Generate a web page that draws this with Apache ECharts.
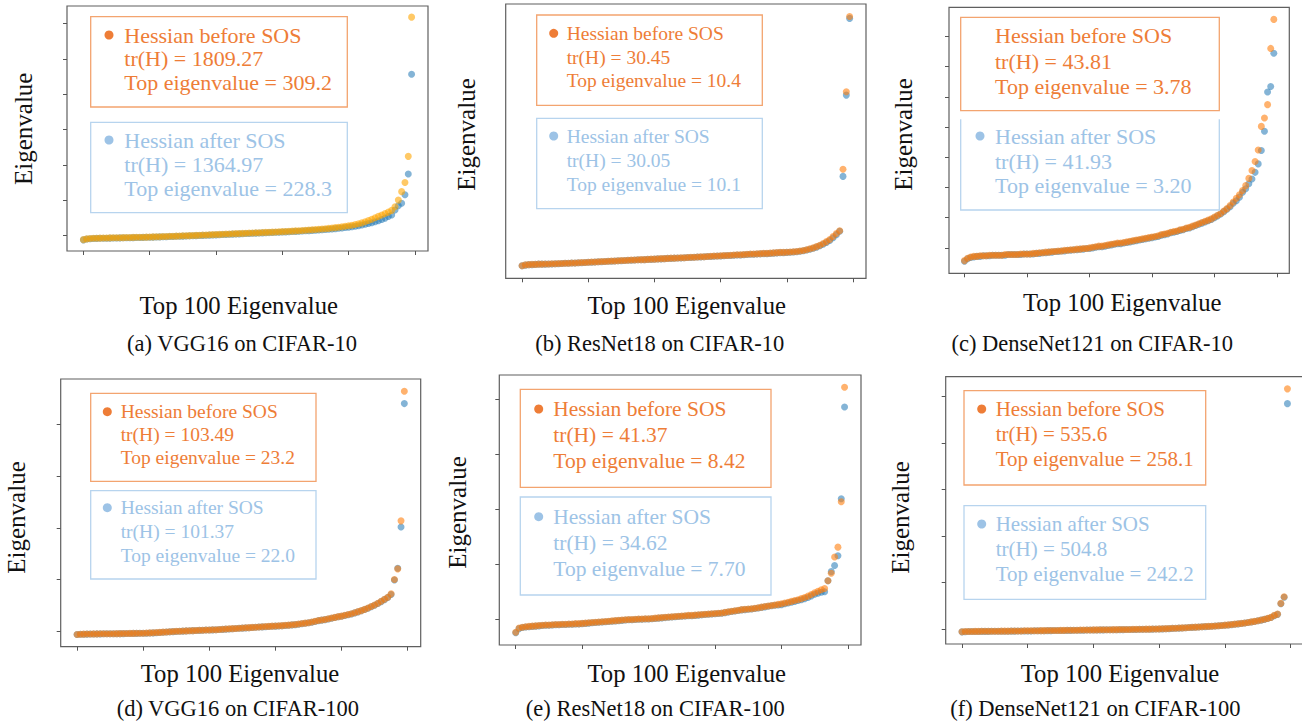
<!DOCTYPE html>
<html>
<head>
<meta charset="utf-8">
<script src="https://cdn.jsdelivr.net/npm/echarts@6/dist/echarts.min.js"></script>
<style>
  html, body { margin: 0; padding: 0; background: #fff; }
  #chart { width: 1302px; height: 721px; }
</style>
</head>
<body>
<div id="chart"></div>
<script>
// ---- data (index 0..99, sorted eigenvalues) ----
const xTicks = [0, 20, 40, 60, 80, 100];
const yTicks = [
  [0, 50, 100, 150, 200, 250, 300],
  [],
  [0, 0.5, 1, 1.5, 2, 2.5, 3, 3.5],
  [0, 5, 10, 15, 20],
  [0, 2, 4, 6, 8],
  [0, 50, 100, 150, 200, 250]
];
const captions = [
  '(a) VGG16 on CIFAR-10', '(b) ResNet18 on CIFAR-10', '(c) DenseNet121 on CIFAR-10',
  '(d) VGG16 on CIFAR-100', '(e) ResNet18 on CIFAR-100', '(f) DenseNet121 on CIFAR-100'
];
const trBefore = ['1809.27', '30.45', '43.81', '103.49', '41.37', '535.6'];
const topBefore = ['309.2', '10.4', '3.78', '23.2', '8.42', '258.1'];
const trAfter = ['1364.97', '30.05', '41.93', '101.37', '34.62', '504.8'];
const topAfter = ['228.3', '10.1', '3.20', '22.0', '7.70', '242.2'];

const aBefore = [-6.0,-4.9,-4.4,-4.1,-3.9,-3.8,-3.7,-3.6,-3.5,-3.4,
  -3.3,-3.2,-3.1,-3.0,-2.9,-2.8,-2.7,-2.6,-2.5,-2.4,
  -2.3,-2.1,-2.0,-1.8,-1.6,-1.5,-1.3,-1.1,-1.0,-0.8,
  -0.6,-0.5,-0.3,-0.1,0.1,0.3,0.5,0.7,0.9,1.1,
  1.3,1.5,1.7,1.9,2.1,2.3,2.5,2.7,2.9,3.1,
  3.3,3.5,3.7,3.9,4.1,4.3,4.5,4.7,4.9,5.1,
  5.4,5.6,5.9,6.1,6.4,6.7,7.0,7.3,7.6,7.9,
  8.3,8.7,9.1,9.5,10.0,10.5,11.0,11.6,12.2,12.9,
  13.6,14.5,15.4,16.5,17.8,19.4,21.2,23.0,25.0,27.0,
  29.0,31.0,33.0,35.5,40.6,50.0,62.0,75.0,112.0,309.2];
const aAfter = [-6.3,-5.2,-4.7,-4.4,-4.2,-4.1,-4.0,-3.9,-3.8,-3.7,
  -3.6,-3.5,-3.4,-3.3,-3.2,-3.1,-3.0,-2.9,-2.8,-2.7,
  -2.6,-2.4,-2.3,-2.1,-2.0,-1.8,-1.6,-1.5,-1.3,-1.1,
  -1.0,-0.8,-0.6,-0.5,-0.3,-0.1,0.1,0.3,0.4,0.6,
  0.8,1.0,1.2,1.4,1.6,1.8,2.0,2.2,2.4,2.6,
  2.8,3.0,3.2,3.4,3.6,3.8,4.0,4.2,4.4,4.6,
  4.8,5.0,5.2,5.5,5.7,6.0,6.2,6.5,6.8,7.1,
  7.4,7.7,8.0,8.4,8.8,9.2,9.6,10.1,10.6,11.1,
  11.7,12.3,13.0,13.8,14.7,15.7,16.8,18.0,19.3,20.8,
  22.5,24.5,27.0,29.0,36.0,42.0,45.5,57.5,87.0,228.3];

const bBefore = [0.00,0.04,0.05,0.06,0.06,0.07,0.07,0.08,0.08,0.09,
  0.09,0.10,0.10,0.11,0.11,0.12,0.12,0.13,0.14,0.14,
  0.15,0.16,0.16,0.17,0.18,0.18,0.19,0.20,0.20,0.21,
  0.22,0.22,0.23,0.24,0.24,0.25,0.26,0.26,0.27,0.28,
  0.28,0.29,0.30,0.30,0.31,0.32,0.32,0.33,0.34,0.34,
  0.35,0.36,0.36,0.37,0.38,0.38,0.39,0.40,0.41,0.41,
  0.42,0.43,0.43,0.44,0.45,0.46,0.46,0.47,0.48,0.49,
  0.49,0.50,0.51,0.52,0.52,0.53,0.54,0.55,0.56,0.56,
  0.57,0.58,0.59,0.60,0.62,0.64,0.67,0.71,0.75,0.80,
  0.86,0.93,1.01,1.10,1.22,1.35,1.46,4.03,7.26,10.40];
const bAfter = [0.00,0.03,0.05,0.05,0.06,0.07,0.07,0.07,0.08,0.08,
  0.09,0.09,0.10,0.11,0.11,0.12,0.12,0.13,0.13,0.14,
  0.15,0.15,0.16,0.17,0.17,0.18,0.19,0.19,0.20,0.21,
  0.21,0.22,0.23,0.23,0.24,0.25,0.25,0.26,0.27,0.27,
  0.28,0.29,0.29,0.30,0.31,0.31,0.32,0.33,0.33,0.34,
  0.35,0.35,0.36,0.37,0.37,0.38,0.39,0.39,0.40,0.41,
  0.41,0.42,0.43,0.43,0.44,0.45,0.45,0.46,0.47,0.48,
  0.48,0.49,0.50,0.51,0.51,0.52,0.53,0.54,0.55,0.55,
  0.56,0.57,0.58,0.59,0.61,0.63,0.66,0.69,0.73,0.78,
  0.84,0.90,0.97,1.06,1.17,1.30,1.44,3.73,7.12,10.32];

const cBefore = [-0.21,-0.17,-0.15,-0.14,-0.14,-0.13,-0.13,-0.13,-0.12,-0.12,
  -0.12,-0.12,-0.12,-0.11,-0.11,-0.11,-0.11,-0.11,-0.10,-0.10,
  -0.10,-0.10,-0.09,-0.09,-0.08,-0.08,-0.07,-0.07,-0.06,-0.06,
  -0.05,-0.05,-0.04,-0.04,-0.03,-0.03,-0.02,-0.02,-0.01,-0.01,
  0.00,0.01,0.02,0.03,0.03,0.04,0.05,0.06,0.07,0.08,
  0.08,0.09,0.10,0.11,0.12,0.13,0.14,0.15,0.16,0.17,
  0.18,0.19,0.20,0.22,0.23,0.24,0.26,0.27,0.28,0.30,
  0.31,0.33,0.34,0.36,0.38,0.40,0.42,0.44,0.46,0.48,
  0.51,0.54,0.57,0.61,0.65,0.70,0.76,0.82,0.88,0.95,
  1.03,1.15,1.28,1.43,1.62,2.01,2.15,2.37,3.30,3.78];
const cAfter = [-0.22,-0.18,-0.16,-0.15,-0.14,-0.14,-0.13,-0.13,-0.13,-0.12,
  -0.12,-0.12,-0.12,-0.12,-0.11,-0.11,-0.11,-0.11,-0.11,-0.10,
  -0.10,-0.10,-0.10,-0.09,-0.09,-0.08,-0.08,-0.07,-0.07,-0.06,
  -0.06,-0.05,-0.05,-0.04,-0.04,-0.03,-0.03,-0.02,-0.02,-0.01,
  -0.01,0.00,0.01,0.02,0.02,0.03,0.04,0.05,0.06,0.07,
  0.07,0.08,0.09,0.10,0.11,0.12,0.13,0.14,0.15,0.16,
  0.17,0.18,0.19,0.21,0.22,0.23,0.25,0.26,0.27,0.29,
  0.30,0.32,0.33,0.35,0.37,0.39,0.41,0.43,0.45,0.47,
  0.50,0.53,0.56,0.60,0.64,0.68,0.74,0.78,0.84,0.92,
  0.98,1.06,1.14,1.25,1.39,1.61,1.93,2.58,2.67,3.22];

const dBefore = [-0.30,-0.28,-0.27,-0.26,-0.26,-0.25,-0.25,-0.24,-0.24,-0.23,
  -0.23,-0.23,-0.22,-0.22,-0.21,-0.21,-0.20,-0.20,-0.19,-0.19,
  -0.18,-0.17,-0.15,-0.14,-0.12,-0.10,-0.08,-0.06,-0.04,-0.02,
  0.00,0.01,0.03,0.04,0.06,0.07,0.08,0.10,0.11,0.12,
  0.13,0.15,0.16,0.18,0.20,0.22,0.24,0.26,0.28,0.30,
  0.32,0.34,0.36,0.38,0.40,0.42,0.44,0.46,0.48,0.50,
  0.51,0.53,0.55,0.58,0.60,0.63,0.66,0.70,0.75,0.79,
  0.83,0.90,0.97,1.05,1.10,1.15,1.21,1.28,1.35,1.42,
  1.47,1.55,1.62,1.70,1.80,1.90,2.00,2.12,2.25,2.40,
  2.55,2.72,2.90,3.10,3.30,3.62,5.00,6.03,10.67,23.20];
const dAfter = [-0.31,-0.29,-0.28,-0.27,-0.26,-0.26,-0.25,-0.25,-0.24,-0.24,
  -0.23,-0.23,-0.23,-0.22,-0.22,-0.21,-0.21,-0.20,-0.20,-0.19,
  -0.19,-0.18,-0.16,-0.15,-0.13,-0.11,-0.09,-0.07,-0.05,-0.03,
  -0.01,0.01,0.02,0.04,0.05,0.07,0.08,0.09,0.10,0.12,
  0.13,0.14,0.16,0.17,0.19,0.21,0.23,0.25,0.27,0.29,
  0.31,0.33,0.35,0.37,0.39,0.41,0.43,0.45,0.47,0.49,
  0.50,0.52,0.54,0.57,0.59,0.62,0.65,0.69,0.73,0.78,
  0.82,0.88,0.95,1.03,1.08,1.13,1.19,1.26,1.33,1.40,
  1.45,1.53,1.60,1.68,1.78,1.88,1.98,2.10,2.23,2.37,
  2.52,2.69,2.87,3.06,3.27,3.55,4.95,6.10,10.07,22.00];

const eBefore = [-0.48,-0.33,-0.30,-0.28,-0.27,-0.26,-0.25,-0.24,-0.23,-0.22,
  -0.22,-0.21,-0.20,-0.20,-0.19,-0.19,-0.18,-0.18,-0.17,-0.17,
  -0.16,-0.15,-0.14,-0.13,-0.12,-0.11,-0.10,-0.09,-0.08,-0.07,
  -0.06,-0.05,-0.04,-0.03,-0.02,-0.02,-0.01,0.00,0.00,0.01,
  0.01,0.02,0.03,0.04,0.05,0.06,0.07,0.08,0.09,0.10,
  0.11,0.12,0.13,0.13,0.14,0.15,0.16,0.17,0.18,0.19,
  0.20,0.21,0.22,0.24,0.26,0.28,0.30,0.32,0.34,0.35,
  0.36,0.37,0.39,0.41,0.43,0.45,0.47,0.49,0.51,0.53,
  0.55,0.58,0.61,0.64,0.67,0.70,0.74,0.78,0.83,0.89,
  0.95,1.01,1.06,1.11,1.39,1.66,2.25,2.61,4.26,8.42];
const eAfter = [-0.50,-0.35,-0.31,-0.29,-0.28,-0.27,-0.26,-0.25,-0.24,-0.23,
  -0.23,-0.22,-0.21,-0.21,-0.20,-0.20,-0.19,-0.19,-0.18,-0.18,
  -0.17,-0.16,-0.15,-0.14,-0.13,-0.12,-0.11,-0.10,-0.09,-0.08,
  -0.07,-0.06,-0.05,-0.04,-0.03,-0.03,-0.02,-0.01,-0.01,0.00,
  0.00,0.01,0.02,0.03,0.04,0.05,0.06,0.07,0.08,0.09,
  0.10,0.11,0.12,0.12,0.13,0.14,0.15,0.16,0.17,0.18,
  0.19,0.20,0.21,0.23,0.25,0.27,0.29,0.31,0.33,0.34,
  0.35,0.36,0.38,0.40,0.42,0.44,0.46,0.48,0.50,0.51,
  0.52,0.55,0.58,0.61,0.64,0.67,0.70,0.74,0.78,0.84,
  0.90,0.94,0.97,0.99,1.39,1.72,1.94,2.30,4.37,7.70];

const fBefore = [-3.2,-3.0,-2.9,-2.9,-2.8,-2.8,-2.7,-2.7,-2.7,-2.6,
  -2.6,-2.6,-2.5,-2.5,-2.5,-2.4,-2.4,-2.3,-2.3,-2.2,
  -2.2,-2.2,-2.1,-2.1,-2.0,-2.0,-1.9,-1.9,-1.8,-1.8,
  -1.7,-1.7,-1.6,-1.6,-1.5,-1.5,-1.4,-1.4,-1.3,-1.3,
  -1.2,-1.2,-1.1,-1.1,-1.0,-1.0,-0.9,-0.9,-0.8,-0.8,
  -0.7,-0.7,-0.6,-0.6,-0.5,-0.5,-0.4,-0.4,-0.3,-0.2,
  -0.1,0.0,0.2,0.3,0.5,0.6,0.8,1.0,1.2,1.4,
  1.6,1.8,2.0,2.2,2.4,2.6,2.8,3.0,3.3,3.6,
  3.9,4.2,4.6,5.0,5.4,5.8,6.3,6.8,7.4,8.0,
  8.7,9.4,10.2,11.2,12.3,14.4,15.8,27.3,34.4,258.1];
const fAfter = [-3.3,-3.1,-3.0,-3.0,-2.9,-2.9,-2.8,-2.8,-2.8,-2.7,
  -2.7,-2.7,-2.6,-2.6,-2.6,-2.5,-2.5,-2.4,-2.4,-2.3,
  -2.3,-2.3,-2.2,-2.2,-2.1,-2.1,-2.0,-2.0,-1.9,-1.9,
  -1.8,-1.8,-1.7,-1.7,-1.6,-1.6,-1.5,-1.5,-1.4,-1.4,
  -1.3,-1.3,-1.2,-1.2,-1.1,-1.1,-1.0,-1.0,-0.9,-0.9,
  -0.8,-0.8,-0.7,-0.7,-0.6,-0.6,-0.5,-0.5,-0.4,-0.3,
  -0.2,-0.1,0.1,0.2,0.4,0.5,0.7,0.9,1.1,1.3,
  1.5,1.7,1.9,2.1,2.3,2.5,2.7,2.9,3.2,3.5,
  3.8,4.1,4.5,4.9,5.3,5.7,6.2,6.7,7.3,7.9,
  8.6,9.3,10.1,11.0,12.1,14.0,15.5,27.0,34.0,242.2];

const before = [aBefore, bBefore, cBefore, dBefore, eBefore, fBefore];
const after = [aAfter, bAfter, cAfter, dAfter, eAfter, fAfter];

// ---- layout of each panel (pixels) ----
// grid: [left, top, width, height]; xl/cap/yl: label centers; box: legend box x range;
// ob/bb: orange/blue box y range; oy/by: legend text line centers
const layout = [
  {grid: [67, 6, 361, 245], xl: [238.7, 305], cap: [242, 343.3], yl: [23.3, 128.8], fs: 22,
   box: [90.7, 347.3], ob: [16.7, 107], bb: [122.3, 212.7], mx: 109, tx: 124.3,
   oy: [35, 58.7, 82], by: [140, 164.3, 188.3], om: true, bTop: true},
  {grid: [505.7, 4, 360.3, 274.3], xl: [686.7, 305], cap: [659.7, 343], yl: [466.7, 134.5], fs: 19.5,
   box: [536.7, 762.3], ob: [15, 105.3], bb: [118.3, 208.7], mx: 553.7, tx: 566.7,
   oy: [33.3, 57, 80.7], by: [136, 160, 184.3], om: true, bTop: true},
  {grid: [949, 7.3, 340.3, 266], xl: [1122.2, 302.7], cap: [1092.2, 343], yl: [903.3, 134.5], fs: 22,
   box: [960.7, 1219.3], ob: [17.3, 110.7], bb: [119.3, 210], mx: 980, tx: 995,
   oy: [35, 61, 86], by: [136, 161, 185], om: false, bTop: false},
  {grid: [60.7, 379, 360, 267.7], xl: [240, 673.3], cap: [237.8, 708.3], yl: [16, 517.5], fs: 19.5,
   box: [90.7, 316], ob: [393.3, 481.3], bb: [490.7, 579], mx: 107.3, tx: 120.7,
   oy: [411.7, 434, 457.7], by: [507.7, 531, 555.7], om: true, bTop: true},
  {grid: [499.3, 375, 361.7, 270], xl: [686.7, 673.3], cap: [655.3, 708.3], yl: [457.3, 512.5], fs: 21.5,
   box: [520.3, 771], ob: [389.3, 487.3], bb: [497, 595], mx: 538.7, tx: 553.3,
   oy: [409, 434.7, 460.7], by: [516.7, 542.7, 569], om: true, bTop: true},
  {grid: [945.7, 376.7, 358, 267.3], xl: [1120, 673.3], cap: [1095.3, 708.3], yl: [900, 517.5], fs: 21,
   box: [964, 1205.7], ob: [390.7, 485], bb: [505.7, 599.3], mx: 981.7, tx: 995.7,
   oy: [409, 434, 459.3], by: [524, 549.3, 574.3], om: true, bTop: true}
];

const serif = 'Liberation Serif';
const orangeText = '#EE7D37';
const blueText = '#9DC3E6';
const orangeLine = '#F3A46F';
const blueLine = '#B7D4EE';
const pointOrange = ['#FFA500', '#FF7F0E', '#FF7F0E', '#FF7F0E', '#FF7F0E', '#FF7F0E'];
const pointBlue = '#1F77B4';

var myChart = echarts.init(document.getElementById('chart'), null, {renderer: 'svg'});

var grids = [], xAxes = [], yAxes = [], series = [], graphics = [];

function txt(x, y, s, size, color, align, rot) {
  return {
    type: 'text', x: x, y: y, rotation: rot || 0, silent: true, z: 100,
    style: {text: s, fill: color, fontSize: size, fontFamily: serif, fontWeight: 'normal',
            align: align || 'left', verticalAlign: 'middle'}
  };
}

layout.forEach(function (p, k) {
  var all = before[k].concat(after[k]);
  var lo = Math.min.apply(null, all), hi = Math.max.apply(null, all);
  var pad = (hi - lo) * 0.05;

  grids.push({
    left: p.grid[0], top: p.grid[1], width: p.grid[2], height: p.grid[3],
    show: true, borderColor: '#5f5f5f', borderWidth: 1.2, backgroundColor: '#fff',
    outerBoundsMode: 'none', containLabel: false
  });
  xAxes.push({
    type: 'value', gridIndex: k, min: -4.95, max: 103.95, position: 'bottom',
    axisLine: {show: false, onZero: false}, splitLine: {show: false}, axisLabel: {show: false},
    axisTick: {show: true, inside: false, length: 4, lineStyle: {color: '#555', width: 1}, customValues: xTicks}
  });
  yAxes.push({
    type: 'value', gridIndex: k, min: lo - pad, max: hi + pad, position: 'left',
    axisLine: {show: false, onZero: false}, splitLine: {show: false}, axisLabel: {show: false},
    axisTick: {show: yTicks[k].length > 0, inside: false, length: 4, lineStyle: {color: '#555', width: 1},
               customValues: yTicks[k].length ? yTicks[k] : undefined}
  });

  series.push({
    type: 'scatter', xAxisIndex: k, yAxisIndex: k, symbolSize: 7, silent: true, z: 2,
    data: after[k].map(function (v, i) { return [i, v]; }),
    itemStyle: {color: pointBlue, opacity: 0.55}
  });
  series.push({
    type: 'scatter', xAxisIndex: k, yAxisIndex: k, symbolSize: 7, silent: true, z: 3,
    data: before[k].map(function (v, i) { return [i, v]; }),
    itemStyle: {color: pointOrange[k], opacity: 0.6}
  });

  // axis titles and caption
  graphics.push(txt(p.xl[0], p.xl[1], 'Top 100 Eigenvalue', 24.7, '#111', 'center'));
  graphics.push(txt(p.cap[0], p.cap[1], captions[k], 22.5, '#111', 'center'));
  graphics.push(txt(p.yl[0], p.yl[1], 'Eigenvalue', 25, '#111', 'center', Math.PI / 2));

  // legend boxes
  graphics.push({
    type: 'rect', silent: true, z: 90,
    shape: {x: p.box[0], y: p.ob[0], width: p.box[1] - p.box[0], height: p.ob[1] - p.ob[0]},
    style: {fill: 'rgba(255,255,255,0.85)', stroke: orangeLine, lineWidth: 1.3}
  });
  if (p.bTop) {
    graphics.push({
      type: 'rect', silent: true, z: 90,
      shape: {x: p.box[0], y: p.bb[0], width: p.box[1] - p.box[0], height: p.bb[1] - p.bb[0]},
      style: {fill: 'rgba(255,255,255,0.85)', stroke: blueLine, lineWidth: 1.3}
    });
  } else {
    graphics.push({
      type: 'rect', silent: true, z: 89,
      shape: {x: p.box[0], y: p.bb[0], width: p.box[1] - p.box[0], height: p.bb[1] - p.bb[0]},
      style: {fill: 'rgba(255,255,255,0.85)'}
    });
    graphics.push({
      type: 'polyline', silent: true, z: 90,
      shape: {points: [[p.box[0], p.bb[0]], [p.box[0], p.bb[1]], [p.box[1], p.bb[1]], [p.box[1], p.bb[0]]]},
      style: {fill: null, stroke: blueLine, lineWidth: 1.3}
    });
  }
  if (p.om) {
    graphics.push({type: 'circle', silent: true, z: 100, shape: {cx: p.mx, cy: p.oy[0], r: 4.5}, style: {fill: orangeText}});
  }
  graphics.push({type: 'circle', silent: true, z: 100, shape: {cx: p.mx, cy: p.by[0], r: 4.5}, style: {fill: blueText}});

  graphics.push(txt(p.tx, p.oy[0], 'Hessian before SOS', p.fs, orangeText));
  graphics.push(txt(p.tx, p.oy[1], 'tr(H) = ' + trBefore[k], p.fs, orangeText));
  graphics.push(txt(p.tx, p.oy[2], 'Top eigenvalue = ' + topBefore[k], p.fs, orangeText));
  graphics.push(txt(p.tx, p.by[0], 'Hessian after SOS', p.fs, blueText));
  graphics.push(txt(p.tx, p.by[1], 'tr(H) = ' + trAfter[k], p.fs, blueText));
  graphics.push(txt(p.tx, p.by[2], 'Top eigenvalue = ' + topAfter[k], p.fs, blueText));
});

var option = {
  backgroundColor: '#fff',
  animation: false,
  grid: grids,
  xAxis: xAxes,
  yAxis: yAxes,
  series: series,
  graphic: {elements: graphics}
};
myChart.setOption(option);
</script>
</body>
</html>
